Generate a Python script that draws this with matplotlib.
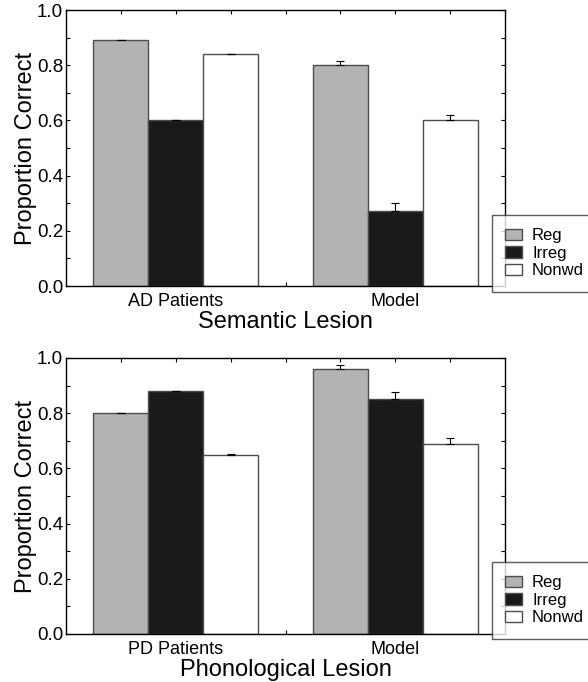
import matplotlib
matplotlib.use("Agg")
import matplotlib.pyplot as plt
import numpy as np
from matplotlib.ticker import MultipleLocator, FixedLocator

plt.rcParams['font.family'] = ['Liberation Sans', 'DejaVu Sans']

# data
conditions = ["Reg", "Irreg", "Nonwd"]
colors = ["#b3b3b3", "#1a1a1a", "#ffffff"]

sem_groups = ["AD Patients", "Model"]
sem_values = [[0.89, 0.60, 0.84], [0.80, 0.27, 0.60]]
sem_errors = [[0.002, 0.002, 0.002], [0.017, 0.029, 0.02]]

pho_groups = ["PD Patients", "Model"]
pho_values = [[0.80, 0.88, 0.65], [0.96, 0.85, 0.69]]
pho_errors = [[0.002, 0.002, 0.002], [0.015, 0.027, 0.02]]

yticks = [0.0, 0.2, 0.4, 0.6, 0.8, 1.0]

fig = plt.figure(figsize=(5.88, 6.82), dpi=100)

W, H = 588.0, 682.0
ax_top = fig.add_axes([66 / W, 1 - 286 / H, 439 / W, 276 / H])
ax_bot = fig.add_axes([66 / W, 1 - 634 / H, 439 / W, 276 / H])


def panel(ax, groups, values, errors, xlabel, legend_top):
    centers = [2, 6]
    for g, c in enumerate(centers):
        for k in range(3):
            x = c + (k - 1)
            ax.bar(x, values[g][k], width=1.0, color=colors[k],
                   edgecolor="#4d4d4d", linewidth=1.0, zorder=2,
                   label=conditions[k] if g == 0 else None)
            ax.errorbar(x, values[g][k], yerr=[[0], [errors[g][k]]], fmt="none",
                        ecolor="black", elinewidth=0.8, capsize=3, capthick=0.8,
                        zorder=3)
    ax.set_xlim(0, 8)
    ax.set_ylim(0, 1.0)
    ax.set_xticks(centers)
    ax.set_xticklabels(groups, fontsize=13)
    ax.xaxis.set_minor_locator(FixedLocator([1, 3, 4, 5, 7]))
    ax.set_yticks(yticks)
    ax.set_yticklabels([f"{v:.1f}" for v in yticks], fontsize=13.5)
    ax.yaxis.set_minor_locator(MultipleLocator(0.1))
    ax.tick_params(which="both", direction="in", top=True, right=True,
                   length=3, width=0.8, pad=5)
    ax.tick_params(axis="y", which="major", pad=2)
    ax.set_ylabel("Proportion Correct", fontsize=17, labelpad=0)
    ax.set_xlabel(xlabel, fontsize=17, labelpad=1)
    for s in ax.spines.values():
        s.set_linewidth(1.0)
    handles, labels = ax.get_legend_handles_labels()
    leg = fig.legend(handles, labels, loc="upper left",
                     bbox_to_anchor=(492 / W, 1 - legend_top / H),
                     fontsize=12, frameon=True, fancybox=False,
                     handlelength=1.0, handleheight=0.7, handletextpad=0.6,
                     labelspacing=0.15, borderpad=0.8, borderaxespad=0)
    leg.get_frame().set_edgecolor("#333333")
    leg.get_frame().set_linewidth(1.0)


panel(ax_top, sem_groups, sem_values, sem_errors, "Semantic Lesion", 215)
panel(ax_bot, pho_groups, pho_values, pho_errors, "Phonological Lesion", 562)

fig.savefig("out.png", dpi=100)
